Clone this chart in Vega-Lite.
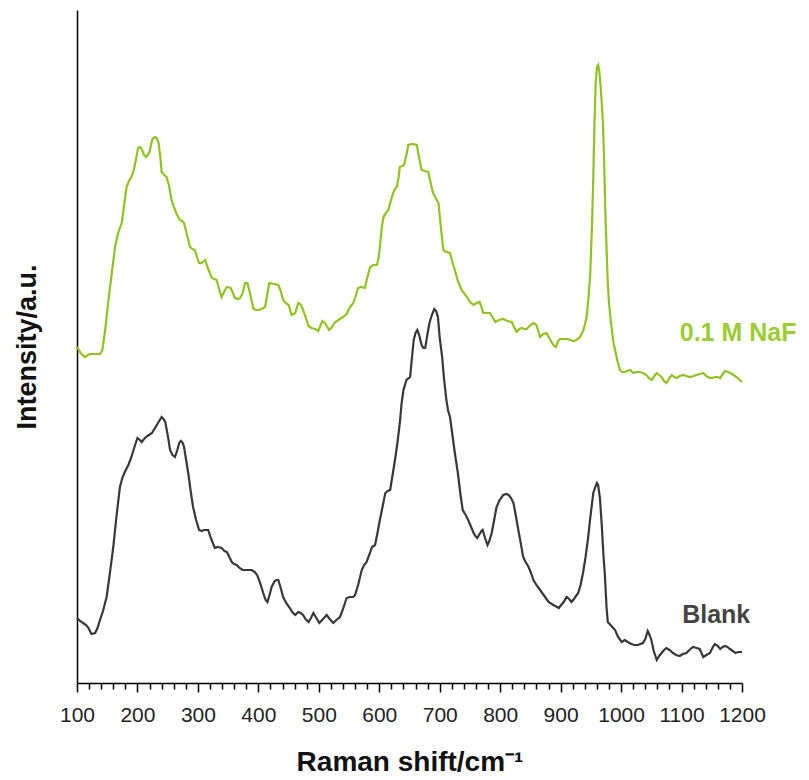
{
  "$schema": "https://vega.github.io/schema/vega-lite/v6.json",
  "width": 665,
  "height": 673,
  "autosize": "none",
  "padding": {"left": 77, "top": 10, "right": 67, "bottom": 97},
  "config": {"view": {"stroke": null}, "font": "Liberation Sans"},
  "datasets": {
    "naf": [
      {"shift":100,"intensity":336},{"shift":106,"intensity":330},{"shift":113,"intensity":326},{"shift":121,"intensity":329},{"shift":130,"intensity":329},{"shift":138,"intensity":329},{"shift":142,"intensity":333},{"shift":147,"intensity":355},{"shift":152,"intensity":383},{"shift":158,"intensity":412},{"shift":163,"intensity":436},{"shift":168,"intensity":450},{"shift":174,"intensity":460},{"shift":178,"intensity":478},{"shift":182,"intensity":496},{"shift":186,"intensity":502},{"shift":190,"intensity":506},{"shift":194,"intensity":513},{"shift":198,"intensity":525},{"shift":201,"intensity":535},{"shift":204,"intensity":536},{"shift":207,"intensity":534},{"shift":211,"intensity":528},{"shift":214,"intensity":526},{"shift":217,"intensity":528},{"shift":220,"intensity":531},{"shift":223,"intensity":540},{"shift":225,"intensity":544},{"shift":229,"intensity":546},{"shift":232,"intensity":545},{"shift":235,"intensity":540},{"shift":238,"intensity":525},{"shift":240,"intensity":511},{"shift":244,"intensity":508},{"shift":248,"intensity":506},{"shift":252,"intensity":498},{"shift":256,"intensity":484},{"shift":259,"intensity":478},{"shift":264,"intensity":470},{"shift":270,"intensity":463},{"shift":274,"intensity":462},{"shift":277,"intensity":460},{"shift":282,"intensity":448},{"shift":287,"intensity":436},{"shift":291,"intensity":434},{"shift":295,"intensity":433},{"shift":299,"intensity":425},{"shift":302,"intensity":420},{"shift":306,"intensity":420},{"shift":312,"intensity":423},{"shift":317,"intensity":414},{"shift":323,"intensity":405},{"shift":327,"intensity":404},{"shift":331,"intensity":403},{"shift":335,"intensity":394},{"shift":339,"intensity":386},{"shift":344,"intensity":392},{"shift":348,"intensity":396},{"shift":354,"intensity":395},{"shift":358,"intensity":390},{"shift":361,"intensity":385},{"shift":366,"intensity":384},{"shift":370,"intensity":385},{"shift":374,"intensity":390},{"shift":378,"intensity":400},{"shift":382,"intensity":400},{"shift":386,"intensity":390},{"shift":392,"intensity":374},{"shift":396,"intensity":373},{"shift":400,"intensity":373},{"shift":405,"intensity":374},{"shift":411,"intensity":376},{"shift":414,"intensity":386},{"shift":418,"intensity":400},{"shift":425,"intensity":399},{"shift":433,"intensity":398},{"shift":437,"intensity":392},{"shift":441,"intensity":383},{"shift":445,"intensity":380},{"shift":450,"intensity":378},{"shift":455,"intensity":368},{"shift":458,"intensity":369},{"shift":461,"intensity":370},{"shift":466,"intensity":380},{"shift":469,"intensity":379},{"shift":472,"intensity":376},{"shift":477,"intensity":368},{"shift":483,"intensity":357},{"shift":488,"intensity":355},{"shift":494,"intensity":354},{"shift":499,"intensity":352},{"shift":503,"intensity":358},{"shift":506,"intensity":362},{"shift":510,"intensity":360},{"shift":514,"intensity":356},{"shift":517,"intensity":353},{"shift":522,"intensity":356},{"shift":526,"intensity":360},{"shift":530,"intensity":362},{"shift":535,"intensity":364},{"shift":540,"intensity":366},{"shift":546,"intensity":369},{"shift":549,"intensity":373},{"shift":553,"intensity":377},{"shift":557,"intensity":380},{"shift":561,"intensity":387},{"shift":565,"intensity":395},{"shift":570,"intensity":396},{"shift":576,"intensity":395},{"shift":580,"intensity":405},{"shift":585,"intensity":416},{"shift":590,"intensity":418},{"shift":596,"intensity":418},{"shift":599,"intensity":425},{"shift":601,"intensity":436},{"shift":604,"intensity":455},{"shift":607,"intensity":466},{"shift":611,"intensity":470},{"shift":615,"intensity":473},{"shift":619,"intensity":482},{"shift":623,"intensity":490},{"shift":626,"intensity":494},{"shift":629,"intensity":496},{"shift":632,"intensity":506},{"shift":634,"intensity":516},{"shift":638,"intensity":517},{"shift":641,"intensity":518},{"shift":645,"intensity":528},{"shift":648,"intensity":538},{"shift":655,"intensity":539},{"shift":662,"intensity":538},{"shift":666,"intensity":525},{"shift":670,"intensity":513},{"shift":675,"intensity":512},{"shift":681,"intensity":511},{"shift":685,"intensity":500},{"shift":689,"intensity":490},{"shift":694,"intensity":484},{"shift":698,"intensity":480},{"shift":702,"intensity":455},{"shift":706,"intensity":433},{"shift":711,"intensity":431},{"shift":717,"intensity":430},{"shift":721,"intensity":421},{"shift":725,"intensity":413},{"shift":730,"intensity":402},{"shift":736,"intensity":393},{"shift":740,"intensity":390},{"shift":745,"intensity":386},{"shift":750,"intensity":381},{"shift":756,"intensity":378},{"shift":761,"intensity":380},{"shift":766,"intensity":381},{"shift":769,"intensity":376},{"shift":772,"intensity":370},{"shift":778,"intensity":370},{"shift":783,"intensity":370},{"shift":787,"intensity":366},{"shift":792,"intensity":361},{"shift":798,"intensity":363},{"shift":805,"intensity":364},{"shift":812,"intensity":362},{"shift":819,"intensity":361},{"shift":823,"intensity":356},{"shift":827,"intensity":351},{"shift":832,"intensity":354},{"shift":836,"intensity":355},{"shift":840,"intensity":354},{"shift":844,"intensity":354},{"shift":850,"intensity":358},{"shift":855,"intensity":360},{"shift":860,"intensity":358},{"shift":863,"intensity":352},{"shift":866,"intensity":346},{"shift":871,"intensity":349},{"shift":877,"intensity":350},{"shift":881,"intensity":345},{"shift":885,"intensity":341},{"shift":888,"intensity":338},{"shift":892,"intensity":336},{"shift":896,"intensity":342},{"shift":899,"intensity":344},{"shift":905,"intensity":344},{"shift":910,"intensity":344},{"shift":916,"intensity":343},{"shift":921,"intensity":342},{"shift":926,"intensity":343},{"shift":932,"intensity":346},{"shift":937,"intensity":352},{"shift":940,"intensity":358},{"shift":943,"intensity":366},{"shift":946,"intensity":385},{"shift":949,"intensity":410},{"shift":952,"intensity":460},{"shift":954,"intensity":505},{"shift":956,"intensity":560},{"shift":958,"intensity":600},{"shift":960,"intensity":616},{"shift":962,"intensity":618},{"shift":964,"intensity":612},{"shift":966,"intensity":598},{"shift":968,"intensity":580},{"shift":970,"intensity":560},{"shift":972,"intensity":520},{"shift":974,"intensity":470},{"shift":976,"intensity":433},{"shift":978,"intensity":400},{"shift":980,"intensity":380},{"shift":983,"intensity":362},{"shift":987,"intensity":342},{"shift":990,"intensity":333},{"shift":994,"intensity":322},{"shift":998,"intensity":313},{"shift":1002,"intensity":311},{"shift":1006,"intensity":311},{"shift":1010,"intensity":312},{"shift":1015,"intensity":313},{"shift":1020,"intensity":310},{"shift":1025,"intensity":311},{"shift":1031,"intensity":311},{"shift":1036,"intensity":310},{"shift":1042,"intensity":308},{"shift":1046,"intensity":305},{"shift":1051,"intensity":303},{"shift":1055,"intensity":307},{"shift":1059,"intensity":310},{"shift":1063,"intensity":308},{"shift":1067,"intensity":306},{"shift":1071,"intensity":302},{"shift":1075,"intensity":300},{"shift":1080,"intensity":305},{"shift":1084,"intensity":308},{"shift":1088,"intensity":306},{"shift":1092,"intensity":305},{"shift":1097,"intensity":307},{"shift":1103,"intensity":308},{"shift":1108,"intensity":307},{"shift":1114,"intensity":306},{"shift":1120,"intensity":307},{"shift":1125,"intensity":308},{"shift":1130,"intensity":309},{"shift":1136,"intensity":310},{"shift":1141,"intensity":307},{"shift":1147,"intensity":305},{"shift":1151,"intensity":305},{"shift":1155,"intensity":306},{"shift":1160,"intensity":306},{"shift":1164,"intensity":305},{"shift":1168,"intensity":309},{"shift":1172,"intensity":312},{"shift":1177,"intensity":311},{"shift":1181,"intensity":310},{"shift":1186,"intensity":308},{"shift":1193,"intensity":305},{"shift":1200,"intensity":301}
    ],
    "blank": [
      {"shift":100,"intensity":65},{"shift":105,"intensity":62},{"shift":110,"intensity":60},{"shift":115,"intensity":58},{"shift":119,"intensity":55},{"shift":124,"intensity":49},{"shift":130,"intensity":50},{"shift":134,"intensity":55},{"shift":138,"intensity":63},{"shift":143,"intensity":72},{"shift":149,"intensity":86},{"shift":154,"intensity":108},{"shift":160,"intensity":136},{"shift":165,"intensity":165},{"shift":171,"intensity":196},{"shift":175,"intensity":205},{"shift":179,"intensity":211},{"shift":185,"intensity":218},{"shift":190,"intensity":226},{"shift":195,"intensity":236},{"shift":200,"intensity":245},{"shift":204,"intensity":243},{"shift":207,"intensity":241},{"shift":211,"intensity":244},{"shift":214,"intensity":246},{"shift":219,"intensity":248},{"shift":224,"intensity":250},{"shift":228,"intensity":254},{"shift":232,"intensity":258},{"shift":236,"intensity":262},{"shift":240,"intensity":266},{"shift":243,"intensity":264},{"shift":246,"intensity":261},{"shift":250,"intensity":248},{"shift":254,"intensity":233},{"shift":258,"intensity":228},{"shift":262,"intensity":226},{"shift":266,"intensity":233},{"shift":269,"intensity":240},{"shift":272,"intensity":242},{"shift":275,"intensity":240},{"shift":277,"intensity":236},{"shift":280,"intensity":225},{"shift":284,"intensity":210},{"shift":288,"intensity":192},{"shift":292,"intensity":176},{"shift":297,"intensity":163},{"shift":302,"intensity":153},{"shift":306,"intensity":152},{"shift":310,"intensity":153},{"shift":314,"intensity":153},{"shift":317,"intensity":153},{"shift":322,"intensity":144},{"shift":328,"intensity":135},{"shift":333,"intensity":136},{"shift":339,"intensity":135},{"shift":344,"intensity":132},{"shift":348,"intensity":131},{"shift":352,"intensity":126},{"shift":356,"intensity":121},{"shift":360,"intensity":119},{"shift":364,"intensity":118},{"shift":369,"intensity":115},{"shift":374,"intensity":113},{"shift":380,"intensity":113},{"shift":385,"intensity":113},{"shift":389,"intensity":113},{"shift":394,"intensity":111},{"shift":398,"intensity":108},{"shift":403,"intensity":100},{"shift":408,"intensity":90},{"shift":412,"intensity":83},{"shift":415,"intensity":81},{"shift":418,"intensity":87},{"shift":422,"intensity":96},{"shift":427,"intensity":102},{"shift":430,"intensity":103},{"shift":433,"intensity":103},{"shift":437,"intensity":95},{"shift":441,"intensity":86},{"shift":446,"intensity":80},{"shift":452,"intensity":75},{"shift":456,"intensity":71},{"shift":461,"intensity":68},{"shift":466,"intensity":71},{"shift":470,"intensity":70},{"shift":474,"intensity":68},{"shift":478,"intensity":64},{"shift":483,"intensity":61},{"shift":487,"intensity":65},{"shift":491,"intensity":70},{"shift":496,"intensity":65},{"shift":501,"intensity":60},{"shift":507,"intensity":64},{"shift":513,"intensity":68},{"shift":518,"intensity":64},{"shift":524,"intensity":60},{"shift":529,"intensity":63},{"shift":535,"intensity":66},{"shift":540,"intensity":74},{"shift":546,"intensity":85},{"shift":551,"intensity":86},{"shift":557,"intensity":86},{"shift":560,"intensity":88},{"shift":565,"intensity":98},{"shift":571,"intensity":113},{"shift":575,"intensity":118},{"shift":579,"intensity":121},{"shift":584,"intensity":129},{"shift":588,"intensity":136},{"shift":593,"intensity":138},{"shift":597,"intensity":150},{"shift":601,"intensity":163},{"shift":606,"intensity":178},{"shift":610,"intensity":190},{"shift":614,"intensity":192},{"shift":618,"intensity":193},{"shift":622,"intensity":208},{"shift":626,"intensity":223},{"shift":630,"intensity":240},{"shift":634,"intensity":260},{"shift":637,"intensity":280},{"shift":640,"intensity":293},{"shift":645,"intensity":303},{"shift":651,"intensity":306},{"shift":654,"intensity":325},{"shift":657,"intensity":343},{"shift":660,"intensity":350},{"shift":663,"intensity":353},{"shift":666,"intensity":348},{"shift":670,"intensity":338},{"shift":673,"intensity":335},{"shift":676,"intensity":335},{"shift":680,"intensity":350},{"shift":683,"intensity":360},{"shift":687,"intensity":368},{"shift":691,"intensity":374},{"shift":694,"intensity":372},{"shift":697,"intensity":366},{"shift":700,"intensity":345},{"shift":704,"intensity":326},{"shift":707,"intensity":305},{"shift":711,"intensity":283},{"shift":714,"intensity":272},{"shift":717,"intensity":266},{"shift":721,"intensity":248},{"shift":725,"intensity":230},{"shift":730,"intensity":210},{"shift":734,"intensity":190},{"shift":738,"intensity":173},{"shift":743,"intensity":168},{"shift":747,"intensity":163},{"shift":752,"intensity":156},{"shift":756,"intensity":150},{"shift":759,"intensity":147},{"shift":762,"intensity":145},{"shift":766,"intensity":149},{"shift":769,"intensity":152},{"shift":771,"intensity":153},{"shift":775,"intensity":145},{"shift":779,"intensity":138},{"shift":782,"intensity":142},{"shift":786,"intensity":150},{"shift":790,"intensity":163},{"shift":794,"intensity":176},{"shift":799,"intensity":183},{"shift":805,"intensity":188},{"shift":810,"intensity":189},{"shift":814,"intensity":188},{"shift":818,"intensity":185},{"shift":822,"intensity":180},{"shift":826,"intensity":167},{"shift":830,"intensity":153},{"shift":834,"intensity":140},{"shift":838,"intensity":126},{"shift":842,"intensity":121},{"shift":847,"intensity":116},{"shift":851,"intensity":110},{"shift":855,"intensity":103},{"shift":860,"intensity":98},{"shift":866,"intensity":93},{"shift":873,"intensity":87},{"shift":880,"intensity":81},{"shift":888,"intensity":78},{"shift":897,"intensity":75},{"shift":901,"intensity":78},{"shift":905,"intensity":81},{"shift":910,"intensity":86},{"shift":914,"intensity":84},{"shift":918,"intensity":81},{"shift":922,"intensity":84},{"shift":929,"intensity":90},{"shift":933,"intensity":98},{"shift":937,"intensity":110},{"shift":941,"intensity":125},{"shift":945,"intensity":143},{"shift":949,"intensity":165},{"shift":954,"intensity":190},{"shift":958,"intensity":197},{"shift":960,"intensity":200},{"shift":962,"intensity":198},{"shift":965,"intensity":185},{"shift":968,"intensity":158},{"shift":971,"intensity":126},{"shift":973,"intensity":110},{"shift":976,"intensity":75},{"shift":978,"intensity":61},{"shift":984,"intensity":57},{"shift":990,"intensity":53},{"shift":995,"intensity":46},{"shift":1001,"intensity":41},{"shift":1006,"intensity":43},{"shift":1011,"intensity":41},{"shift":1017,"intensity":39},{"shift":1022,"intensity":38},{"shift":1028,"intensity":38},{"shift":1032,"intensity":39},{"shift":1036,"intensity":40},{"shift":1040,"intensity":44},{"shift":1044,"intensity":52},{"shift":1047,"intensity":48},{"shift":1050,"intensity":43},{"shift":1054,"intensity":32},{"shift":1059,"intensity":23},{"shift":1063,"intensity":27},{"shift":1067,"intensity":30},{"shift":1071,"intensity":33},{"shift":1075,"intensity":35},{"shift":1080,"intensity":33},{"shift":1086,"intensity":30},{"shift":1091,"intensity":28},{"shift":1097,"intensity":27},{"shift":1102,"intensity":29},{"shift":1108,"intensity":30},{"shift":1113,"intensity":33},{"shift":1119,"intensity":36},{"shift":1125,"intensity":35},{"shift":1130,"intensity":34},{"shift":1133,"intensity":30},{"shift":1136,"intensity":26},{"shift":1141,"intensity":28},{"shift":1147,"intensity":30},{"shift":1151,"intensity":35},{"shift":1155,"intensity":39},{"shift":1160,"intensity":37},{"shift":1164,"intensity":34},{"shift":1168,"intensity":36},{"shift":1172,"intensity":37},{"shift":1176,"intensity":36},{"shift":1180,"intensity":34},{"shift":1185,"intensity":32},{"shift":1189,"intensity":30},{"shift":1194,"intensity":31},{"shift":1200,"intensity":31}
    ],
    "labels": [
      {"shift":1097,"intensity":350,"label":"0.1 M NaF","sample":"naf"},
      {"shift":1101,"intensity":68,"label":"Blank","sample":"blank"}
    ]
  },
  "encoding": {
    "x": {
      "field": "shift", "type": "quantitative",
      "scale": {"domain": [100, 1200], "nice": false, "zero": false},
      "axis": {
        "title": "Raman shift/cm⁻¹",
        "values": [100,120,140,160,180,200,220,240,260,280,300,320,340,360,380,400,420,440,460,480,500,520,540,560,580,600,620,640,660,680,700,720,740,760,780,800,820,840,860,880,900,920,940,960,980,1000,1020,1040,1060,1080,1100,1120,1140,1160,1180,1200],
        "format": "d",
        "labelExpr": "datum.value % 100 === 0 ? datum.label : ''",
        "labelOverlap": false,
        "labelFlush": false,
        "tickSize": {"condition": {"test": "datum.value % 100 === 0", "value": 9}, "value": 6},
        "tickWidth": 1.5,
        "tickColor": "#000",
        "domainColor": "#000",
        "domainWidth": 1.5,
        "grid": false,
        "labelFontSize": 21,
        "labelColor": "#222",
        "labelPadding": 12,
        "titleFontSize": 28,
        "titleFontWeight": "bold",
        "titleColor": "#111",
        "titlePadding": 23
      }
    },
    "y": {
      "field": "intensity", "type": "quantitative",
      "scale": {"domain": [0, 673], "nice": false, "zero": false},
      "axis": {
        "title": "Intensity/a.u.",
        "labels": false,
        "ticks": false,
        "grid": false,
        "domainColor": "#000",
        "domainWidth": 1.5,
        "titleFontSize": 27,
        "titleFontWeight": "bold",
        "titleColor": "#111",
        "titlePadding": 36
      }
    }
  },
  "layer": [
    {"data": {"name": "naf"}, "mark": {"type": "line", "color": "#8fc31f", "strokeWidth": 2.2}},
    {"data": {"name": "blank"}, "mark": {"type": "line", "color": "#383838", "strokeWidth": 2.2}},
    {
      "data": {"name": "labels"},
      "mark": {"type": "text", "align": "left", "baseline": "middle", "fontSize": 25, "fontWeight": "bold"},
      "encoding": {
        "text": {"field": "label", "type": "nominal"},
        "color": {"field": "sample", "type": "nominal", "scale": {"domain": ["naf", "blank"], "range": ["#9acd32", "#444444"]}, "legend": null}
      }
    }
  ]
}
